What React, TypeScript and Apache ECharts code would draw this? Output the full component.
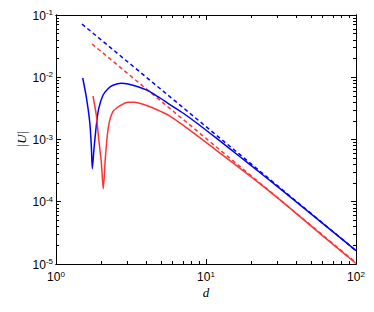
import React, { useEffect, useRef } from "react";
import * as echarts from "echarts";

const xMajor = [1, 10, 100];
const xMinor = [2, 3, 4, 5, 6, 7, 8, 9, 20, 30, 40, 50, 60, 70, 80, 90];
const yMajor = [1e-5, 1e-4, 1e-3, 1e-2, 1e-1];
const yMinor = [
  2e-5, 3e-5, 4e-5, 5e-5, 6e-5, 7e-5, 8e-5, 9e-5,
  2e-4, 3e-4, 4e-4, 5e-4, 6e-4, 7e-4, 8e-4, 9e-4,
  2e-3, 3e-3, 4e-3, 5e-3, 6e-3, 7e-3, 8e-3, 9e-3,
  2e-2, 3e-2, 4e-2, 5e-2, 6e-2, 7e-2, 8e-2, 9e-2,
];

const blueSolid: [number, number][] = [
  [1.507, 0.00973], [1.592, 0.00482], [1.678, 0.00191], [1.719, 0.000807],
  [1.746, 0.00034], [1.792, 0.00071], [1.857, 0.00169], [1.926, 0.00313],
  [2.057, 0.00513], [2.222, 0.00655], [2.399, 0.00743], [2.725, 0.008],
  [3.02, 0.0078], [3.52, 0.00705], [4.107, 0.00608], [4.786, 0.00487],
  [5.58, 0.00382], [7.06, 0.00264], [8.67, 0.00184], [11.79, 0.00104],
  [14.45, 0.000708], [19.65, 0.000394], [31.6, 0.000158], [67.1, 0.000036],
  [100, 0.0000164],
];
const redSolid: [number, number][] = [
  [1.765, 0.005], [1.857, 0.00245], [1.926, 0.00103], [2.004, 0.000436],
  [2.066, 0.000162], [2.132, 0.000492], [2.198, 0.00117], [2.28, 0.00203],
  [2.399, 0.00284], [2.523, 0.00318], [2.725, 0.00358], [3.02, 0.00396],
  [3.347, 0.00396], [3.8, 0.00368], [4.318, 0.00329], [5.035, 0.0028],
  [5.58, 0.00248], [7.06, 0.00168], [11.79, 0.000665], [19.65, 0.00026],
  [31.6, 0.000104], [53.3, 0.000036], [100, 0.0000102],
];
const blueDashed: [number, number][] = [[1.49, 0.0716], [100, 0.0000164]];
const redDashed: [number, number][] = [[1.74, 0.0342], [100, 0.0000105]];

const BLUE = "#0000ff";
const RED = "#ff3333";

const fmt = (v: number) => `{b|10}{s|${Math.round(Math.log10(v))}}`;
const rich = {
  b: { fontSize: 12, fontFamily: "Liberation Sans", color: "#000", lineHeight: 13, verticalAlign: "bottom" },
  s: { fontSize: 8, fontFamily: "Liberation Sans", color: "#000", lineHeight: 13, verticalAlign: "top" },
};

export default function App() {
  const ref = useRef<HTMLDivElement>(null);
  useEffect(() => {
    if (!ref.current) return;
    const chart = echarts.init(ref.current, undefined, { renderer: "svg" });
    const line = { lineStyle: { color: "#000", width: 1 } };
    const mk = (pos: string, major: boolean, labels: boolean, isX: boolean) => ({
      type: "log",
      logBase: 10,
      min: isX ? 1 : 1e-5,
      max: isX ? 100 : 1e-1,
      position: pos,
      axisLine: { show: true, onZero: false, ...line },
      axisTick: {
        show: true,
        inside: true,
        length: major ? 5 : 3,
        lineStyle: { color: "#000", width: 1 },
        customValues: major ? (isX ? xMajor : yMajor) : isX ? xMinor : yMinor,
      },
      axisLabel: labels
        ? { show: true, customValues: isX ? xMajor : yMajor, formatter: fmt, rich, margin: isX ? 6 : 3 }
        : { show: false },
      splitLine: { show: false },
      minorTick: { show: false },
    });
    chart.setOption({
      animation: false,
      grid: { left: 56, right: 18, top: 15, bottom: 48, containLabel: false },
      xAxis: [mk("bottom", true, true, true), mk("top", true, false, true), mk("bottom", false, false, true), mk("top", false, false, true)],
      yAxis: [mk("left", true, true, false), mk("right", true, false, false), mk("left", false, false, false), mk("right", false, false, false)],
      graphic: [
        {
          type: "text",
          x: 21,
          y: 139,
          rotation: Math.PI / 2,
          style: { text: "|U|", font: "italic 13px 'Liberation Serif'", fill: "#000", align: "center", verticalAlign: "middle" },
        },
        {
          type: "text",
          x: 206,
          y: 292,
          style: { text: "d", font: "italic 13px 'Liberation Serif'", fill: "#000", align: "center", verticalAlign: "middle" },
        },
      ],
      series: [
        { type: "line", data: blueDashed, symbol: "none", lineStyle: { color: BLUE, width: 1.5, type: [4, 3] } },
        { type: "line", data: redDashed, symbol: "none", lineStyle: { color: RED, width: 1.5, type: [4, 3] } },
        { type: "line", data: blueSolid, symbol: "none", smooth: 0.25, lineStyle: { color: BLUE, width: 1.5 } },
        { type: "line", data: redSolid, symbol: "none", smooth: 0.25, lineStyle: { color: RED, width: 1.5 } },
      ],
    });
    return () => chart.dispose();
  }, []);
  return <div ref={ref} style={{ width: 374, height: 312, position: "absolute", left: 0, top: 0 }} />;
}
